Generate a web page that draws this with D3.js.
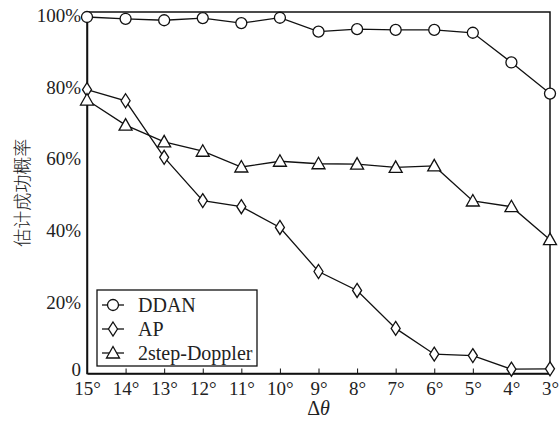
<!DOCTYPE html>
<html>
<head>
<meta charset="utf-8">
<script src="https://cdn.jsdelivr.net/npm/d3@7"></script>
<style>
  body { margin: 0; background: #fff; }
  svg text { font-family: 'Liberation Serif', 'Times New Roman', serif; fill: #222; }
</style>
</head>
<body>
<svg id="chart"></svg>
<script>
var width = 559,
    height = 421,
    margin = {top: 12, right: 9, bottom: 47.5, left: 87},
    serif = "'Liberation Serif', 'Times New Roman', serif";

// x categories (angle step, degrees), left to right
var angles = [15, 14, 13, 12, 11, 10, 9, 8, 7, 6, 5, 4, 3];
var yTicks = [0, 20, 40, 60, 80, 100];

// success probability (%)
var ddan = [99.6, 99.1, 98.7, 99.3, 97.9, 99.4, 95.5, 96.2, 96.0, 96.0, 95.2, 86.9, 78.2];
var ap = [79.3, 76.2, 60.4, 48.3, 46.6, 40.8, 28.5, 23.2, 12.6, 5.4, 5.0, 1.2, 1.3];
var doppler = [76.4, 69.4, 64.7, 62.1, 57.7, 59.3, 58.6, 58.5, 57.6, 58.0, 48.2, 46.6, 37.4];

var series = [
    {name: "DDAN", values: ddan, symbol: "circle"},
    {name: "AP", values: ap, symbol: "diamond"},
    {name: "2step-Doppler", values: doppler, symbol: "triangle"},
];

let svg = d3.select("#chart")
    .attr("width", width)
    .attr("height", height);

let x = d3.scalePoint()
    .domain(angles)
    .range([margin.left, width - margin.right]);

let y = d3.scaleLinear()
    .domain([0, 101])
    .range([height - margin.bottom, margin.top]);

// marker drawing
let drawMarker = (g, symbol) => {
    if (symbol === "circle") {
        g.append("circle").attr("r", 5.5);
    } else if (symbol === "diamond") {
        g.append("path").attr("d", "M0,-7L4.5,0L0,7L-4.5,0Z");
    } else {
        g.append("path").attr("d", "M0,-6.5L6.5,5L-6.5,5Z");
    }
};

// frame
svg.append("rect")
    .attr("x", margin.left)
    .attr("y", margin.top)
    .attr("width", width - margin.right - margin.left)
    .attr("height", height - margin.bottom - margin.top)
    .attr("fill", "none")
    .attr("stroke", "#111")
    .attr("stroke-width", 1.5);

// x axis
let xAxis = svg.append("g")
    .attr("transform", `translate(0, ${height - margin.bottom})`)
    .call(d3.axisBottom(x).tickSize(-5).tickSizeOuter(0).tickPadding(8).tickFormat(d => d + "°"))
    .attr("font-family", serif)
    .attr("font-size", 19);
xAxis.select(".domain").attr("stroke", "#111").attr("stroke-width", 1.5);
xAxis.selectAll("line").attr("stroke", "#111").attr("stroke-width", 1);
xAxis.selectAll("text").attr("fill", "#222");

// y axis
let yAxis = svg.append("g")
    .attr("transform", `translate(${margin.left}, 0)`)
    .call(d3.axisLeft(y).tickValues(yTicks).tickSize(0).tickPadding(6)
        .tickFormat(d => d === 0 ? "0" : d + "%"))
    .attr("font-family", serif)
    .attr("font-size", 19);
yAxis.select(".domain").attr("stroke", "#111").attr("stroke-width", 1.5);
yAxis.selectAll("text").attr("fill", "#222");
yAxis.selectAll(".tick").filter(d => d === 0).select("text").attr("dy", "0.1em");

// axis labels
svg.append("text")
    .attr("transform", `translate(${(margin.left + width - margin.right) / 2}, ${height - 6})`)
    .style("text-anchor", "middle")
    .style("font-size", "20px")
    .html("Δ<tspan font-style='italic'>θ</tspan>");

svg.append("text")
    .attr("transform", `translate(29, ${(margin.top + height - margin.bottom) / 2}) rotate(-90)`)
    .style("text-anchor", "middle")
    .style("font-family", "'Noto Sans CJK SC', sans-serif")
    .style("font-size", "18px")
    .style("font-weight", "300")
    .text("估计成功概率");

// lines and markers
let line = d3.line()
    .x((d, i) => x(angles[i]))
    .y(d => y(d));

for (let s of series) {
    svg.append("path")
        .datum(s.values)
        .attr("fill", "none")
        .attr("stroke", "#111")
        .attr("stroke-width", 1.3)
        .attr("d", line);

    svg.append("g")
        .selectAll("g")
        .data(s.values)
        .join("g")
        .attr("transform", (d, i) => `translate(${x(angles[i])}, ${y(d)})`)
        .attr("fill", "#fff")
        .attr("stroke", "#111")
        .attr("stroke-width", 1.3)
        .each(function () { drawMarker(d3.select(this), s.symbol); });
}

// legend
let legend = svg.append("g").attr("transform", "translate(97, 290)");
legend.append("rect")
    .attr("width", 160)
    .attr("height", 76)
    .attr("fill", "#fff")
    .attr("stroke", "#111")
    .attr("stroke-width", 1.3);

series.forEach((s, i) => {
    let row = legend.append("g").attr("transform", `translate(0, ${15 + i * 24})`);
    row.append("line")
        .attr("x1", 5).attr("x2", 27)
        .attr("stroke", "#111").attr("stroke-width", 1.3);
    let m = row.append("g")
        .attr("transform", "translate(16, 0)")
        .attr("fill", "#fff")
        .attr("stroke", "#111")
        .attr("stroke-width", 1.3);
    drawMarker(m, s.symbol);
    row.append("text")
        .attr("x", 41)
        .attr("dy", "0.35em")
        .style("font-size", "20px")
        .text(s.name);
});
</script>
</body>
</html>
